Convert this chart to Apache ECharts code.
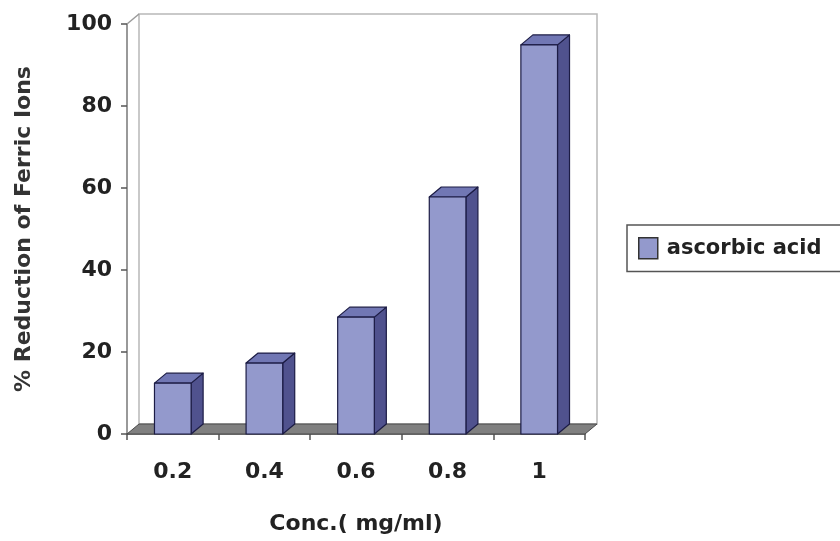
<!DOCTYPE html>
<html><head><meta charset="utf-8">
<script src="https://cdn.jsdelivr.net/npm/echarts@6/dist/echarts.min.js"></script>
<style>html,body{margin:0;padding:0;background:#fff}#c{width:840px;height:541px}</style>
</head><body><div id="c"></div>
<script>
const categories = ['0.2', '0.4', '0.6', '0.8', '1'];
const values = [12.4, 17.3, 28.5, 57.8, 94.9];
const seriesName = 'ascorbic acid';
const xTitle = 'Conc.( mg/ml)';
const yTitle = '% Reduction of Ferric Ions';

const DX = 12, DY = -10;
const FRONT = '#9399cc', SIDE = '#50528e', TOP = '#7177b4', EDGE = '#1c1c45';
const FONT = 'DejaVu Sans';

function renderWall(params, api) {
  const cs = params.coordSys;
  const x0 = cs.x, y0 = cs.y, x1 = cs.x + cs.width, y1 = cs.y + cs.height;
  return {
    type: 'group', children: [
      { type: 'rect', shape: { x: x0 + DX, y: y0 + DY, width: cs.width, height: cs.height },
        style: { fill: '#fff', stroke: '#b8b8b8', lineWidth: 1.5 } },
      { type: 'polyline', shape: { points: [[x0, y0], [x0 + DX, y0 + DY]] },
        style: { stroke: '#9a9a9a', lineWidth: 1.5, fill: null } },
      { type: 'polygon', shape: { points: [[x0, y1], [x1, y1], [x1 + DX, y1 + DY], [x0 + DX, y1 + DY]] },
        style: { fill: '#808080', stroke: '#4a4a4a', lineWidth: 1 } }
    ]
  };
}

function renderBar(params, api) {
  const idx = api.value(0);
  const v = api.value(1);
  const base = api.coord([idx, 0]);
  const top = api.coord([idx, v]);
  const w = api.size([1, 0])[0] * 0.4;
  const xl = base[0] - w / 2, xr = base[0] + w / 2;
  const yt = top[1], yb = base[1];
  const st = { stroke: EDGE, lineWidth: 1.2, lineJoin: 'round' };
  return {
    type: 'group', children: [
      { type: 'polygon', shape: { points: [[xr, yb], [xr + DX, yb + DY], [xr + DX, yt + DY], [xr, yt]] },
        style: Object.assign({ fill: SIDE }, st) },
      { type: 'polygon', shape: { points: [[xl, yt], [xr, yt], [xr + DX, yt + DY], [xl + DX, yt + DY]] },
        style: Object.assign({ fill: TOP }, st) },
      { type: 'rect', shape: { x: xl, y: yt, width: w, height: yb - yt },
        style: Object.assign({ fill: FRONT }, st) }
    ]
  };
}

const chart = echarts.init(document.getElementById('c'));
chart.setOption({
  backgroundColor: '#fff',
  animation: false,
  textStyle: { fontFamily: FONT },
  grid: { left: 127, right: 255, top: 24, bottom: 107, containLabel: false },
  legend: {
    show: true,
    left: 627, top: 225,
    orient: 'vertical',
    data: [{ name: seriesName, icon: 'rect', itemStyle: { color: FRONT, borderColor: '#333', borderWidth: 1.5 } }],
    itemWidth: 19, itemHeight: 21, itemGap: 0,
    padding: [12, 40, 12, 11],
    borderColor: '#555', borderWidth: 1.5,
    textStyle: { fontFamily: FONT, fontWeight: 'bold', fontSize: 21, color: '#222', padding: [0, 0, 0, 4] }
  },
  xAxis: {
    type: 'category',
    data: categories,
    name: xTitle,
    nameLocation: 'middle',
    nameGap: 79,
    nameTextStyle: { fontFamily: FONT, fontWeight: 'bold', fontSize: 22, color: '#222', verticalAlign: 'top' },
    axisLine: { show: true, lineStyle: { color: '#555', width: 1.5 } },
    axisTick: { show: true, length: 6, lineStyle: { color: '#555', width: 1.5 } },
    axisLabel: { margin: 27, fontFamily: FONT, fontWeight: 'bold', fontSize: 22, color: '#222' },
    splitLine: { show: false }
  },
  yAxis: {
    type: 'value',
    min: 0, max: 100, interval: 20,
    name: yTitle,
    nameLocation: 'middle',
    nameGap: 92,
    nameRotate: 90,
    nameTextStyle: { fontFamily: FONT, fontWeight: 'bold', fontSize: 22, color: '#333' },
    axisLine: { show: true, lineStyle: { color: '#777', width: 1.5 } },
    axisTick: { show: true, length: 6, lineStyle: { color: '#555', width: 1.5 } },
    axisLabel: { margin: 15, fontFamily: FONT, fontWeight: 'bold', fontSize: 22, color: '#222' },
    splitLine: { show: false }
  },
  series: [
    { type: 'custom', name: '_wall', z: 1, silent: true, renderItem: renderWall, data: [[0, 0]], encode: { x: 0, y: 1 } },
    { type: 'custom', name: seriesName, z: 3, renderItem: renderBar,
      itemStyle: { color: FRONT, borderColor: '#333' },
      data: values.map((v, i) => [i, v]), encode: { x: 0, y: 1 } }
  ]
});
</script>
</body></html>
